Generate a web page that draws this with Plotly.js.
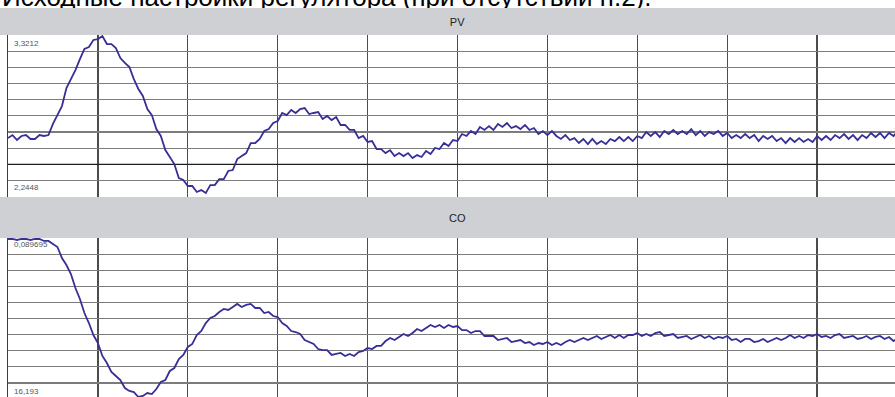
<!DOCTYPE html>
<html>
<head>
<meta charset="utf-8">
<script src="https://cdn.plot.ly/plotly-3.0.1.min.js"></script>
<style>
html,body{margin:0;padding:0;background:#fff;overflow:hidden;}
#chart{width:915px;height:402px;}
</style>
</head>
<body>
<div id="chart"></div>
<script>
// ---- data ----
const TITLE = 'Исходные настройки регулятора (при отсутствии п.2).';
const PANEL_NAMES = ['PV', 'CO'];
const TIME_RANGE = [0, 10];
const SAMPLE_STEP = 0.05;

const PV_MIN = 2.2448, PV_MAX = 3.3212;
const PV_LABELS = ['3,3212', '2,2448'];
const PV_MARK = 2.46008;
const PV = [
 2.635, 2.655, 2.622, 2.649, 2.655, 2.629, 2.629, 2.655, 2.649, 2.655,
 2.729, 2.788, 2.848, 2.968, 3.028, 3.088, 3.161, 3.228, 3.241, 3.288,
 3.294, 3.314, 3.261, 3.261, 3.234, 3.168, 3.135, 3.108, 3.028, 2.962,
 2.915, 2.828, 2.788, 2.695, 2.649, 2.555, 2.509, 2.462, 2.369, 2.356,
 2.316, 2.316, 2.276, 2.289, 2.269, 2.322, 2.322, 2.362, 2.362, 2.416,
 2.422, 2.495, 2.515, 2.535, 2.602, 2.602, 2.629, 2.682, 2.695, 2.735,
 2.749, 2.802, 2.788, 2.822, 2.802, 2.828, 2.835, 2.795, 2.802, 2.808,
 2.762, 2.782, 2.755, 2.775, 2.722, 2.722, 2.689, 2.689, 2.635, 2.649,
 2.609, 2.615, 2.562, 2.562, 2.535, 2.555, 2.515, 2.535, 2.515, 2.535,
 2.502, 2.522, 2.509, 2.549, 2.529, 2.569, 2.562, 2.602, 2.582, 2.622,
 2.615, 2.662, 2.649, 2.682, 2.662, 2.709, 2.689, 2.715, 2.689, 2.729,
 2.709, 2.735, 2.702, 2.715, 2.695, 2.722, 2.689, 2.702, 2.662, 2.682,
 2.655, 2.682, 2.649, 2.629, 2.655, 2.622, 2.635, 2.602, 2.629, 2.595,
 2.629, 2.595, 2.615, 2.595, 2.629, 2.615, 2.642, 2.615, 2.642, 2.615,
 2.649, 2.635, 2.675, 2.649, 2.675, 2.642, 2.682, 2.662, 2.689, 2.662,
 2.682, 2.662, 2.695, 2.655, 2.682, 2.649, 2.675, 2.662, 2.682, 2.649,
 2.669, 2.635, 2.655, 2.635, 2.662, 2.635, 2.655, 2.615, 2.649, 2.629,
 2.649, 2.615, 2.635, 2.602, 2.635, 2.609, 2.635, 2.609, 2.629, 2.609,
 2.649, 2.622, 2.649, 2.622, 2.655, 2.635, 2.662, 2.629, 2.655, 2.622,
 2.655, 2.635, 2.669, 2.642, 2.669, 2.635, 2.669, 2.649, 2.682, 2.649, 2.669
];

const CO_MIN = -16.193, CO_MAX = 0.089695;
const CO_LABELS = ['0,089695', '16,193'];
const CO = [
 -0.01, -0.01, -0.11, -0.01, -0.01, -0.11, -0.01, -0.01, -0.21, -0.21,
 -0.52, -0.82, -1.93, -2.64, -3.55, -4.97, -6.08, -7.50, -8.51, -9.72,
 -10.53, -11.84, -12.55, -13.46, -13.87, -14.27, -15.08, -15.38, -15.49, -15.99,
 -15.89, -15.59, -15.69, -15.18, -14.47, -14.27, -13.36, -13.06, -12.15, -11.74,
 -10.93, -10.63, -9.72, -9.32, -8.51, -8.00, -7.80, -7.39, -7.09, -7.19,
 -6.89, -6.58, -6.89, -6.68, -6.58, -6.99, -6.99, -7.50, -7.39, -7.80,
 -7.90, -8.51, -8.81, -9.32, -9.42, -9.62, -10.23, -10.43, -10.63, -11.14,
 -11.24, -11.24, -11.74, -11.64, -11.54, -11.84, -11.64, -11.84, -11.44, -11.34,
 -11.04, -11.14, -10.83, -10.83, -10.33, -10.02, -10.23, -9.92, -9.62, -9.82,
 -9.52, -9.11, -9.32, -9.01, -8.71, -8.91, -8.71, -9.01, -8.71, -8.91,
 -8.81, -9.22, -9.22, -9.52, -9.32, -9.32, -9.82, -9.82, -9.82, -10.23,
 -10.12, -10.02, -10.43, -10.33, -10.23, -10.53, -10.43, -10.73, -10.53, -10.63,
 -10.43, -10.73, -10.53, -10.73, -10.43, -10.23, -10.43, -10.23, -10.02, -10.23,
 -10.02, -9.82, -10.12, -9.92, -9.72, -10.02, -9.72, -10.02, -9.72, -9.72,
 -9.52, -9.82, -9.62, -9.82, -9.52, -9.42, -9.82, -9.72, -9.62, -10.02,
 -9.92, -9.82, -10.12, -9.92, -9.72, -10.02, -9.82, -10.12, -9.92, -10.02,
 -9.82, -10.23, -10.12, -10.43, -10.12, -10.12, -10.43, -10.33, -10.12, -10.43,
 -10.23, -10.02, -10.23, -10.02, -9.72, -10.02, -9.82, -10.02, -9.72, -9.82,
 -9.62, -9.92, -9.82, -10.02, -9.72, -9.62, -10.02, -9.92, -9.82, -10.12,
 -10.02, -9.82, -10.12, -9.92, -9.82, -10.12, -9.92, -10.33, -10.02, -10.12, -9.92
];

// ---- styling ----
const LINE_COLOR = '#372f96';
const HEADER_BG = '#cfd0d4';
const VGRID = '#4c4c4c';
const HGRID = '#7c7c7c';
const FONT = 'Arial, "Liberation Sans", sans-serif';

function trace(values, xa, ya, name) {
  return {
    type: 'scatter', mode: 'lines', name: name,
    x0: TIME_RANGE[0], dx: SAMPLE_STEP, y: values,
    xaxis: xa, yaxis: ya,
    line: {color: LINE_COLOR, width: 1.8},
    hoverinfo: 'skip', showlegend: false
  };
}

function xAxis(anchor) {
  return {
    domain: [0, 1], range: TIME_RANGE, anchor: anchor,
    tickmode: 'linear', tick0: TIME_RANGE[0], dtick: 1,
    showgrid: true, gridcolor: VGRID, gridwidth: 1.2,
    showline: true, mirror: true, linecolor: '#3c3c3c', linewidth: 1.2,
    showticklabels: false, ticks: '', zeroline: false, fixedrange: true
  };
}
function yAxis(domain, lo, hi, anchor) {
  return {
    domain: domain, range: [lo, hi], anchor: anchor,
    tickmode: 'linear', tick0: lo, dtick: (hi - lo) / 10,
    showgrid: true, gridcolor: HGRID, gridwidth: 1.2,
    showline: true, mirror: true, linecolor: '#3c3c3c', linewidth: 1.2,
    showticklabels: false, ticks: '', zeroline: false, fixedrange: true
  };
}

function label(text, y) {
  return {
    text: text, xref: 'paper', yref: 'paper', x: 0.0045, y: y,
    xanchor: 'left', yanchor: 'middle', showarrow: false,
    font: {family: FONT, size: 8, color: '#555'}
  };
}
function header(text, y, h) {
  return {
    text: text, xref: 'paper', yref: 'paper', x: 0.5, y: y,
    xanchor: 'center', yanchor: 'middle', showarrow: false,
    width: 915, height: h, bgcolor: HEADER_BG, borderpad: 0, borderwidth: 0,
    font: {family: FONT, size: 11, color: '#222'}
  };
}

const layout = {
  width: 915, height: 402,
  margin: {l: 8, r: 8, t: 0, b: 0, pad: 0},
  paper_bgcolor: '#ffffff', plot_bgcolor: '#ffffff',
  showlegend: false,
  xaxis: xAxis('y'),
  yaxis: yAxis([0.5107, 0.91294], PV_MIN, PV_MAX, 'x'),
  xaxis2: xAxis('y2'),
  yaxis2: yAxis([0.00746, 0.40796], CO_MIN, CO_MAX, 'x2'),
  shapes: [{
    type: 'line', xref: 'x', yref: 'y', layer: 'between',
    x0: TIME_RANGE[0], x1: TIME_RANGE[1], y0: PV_MARK, y1: PV_MARK,
    line: {color: '#1e1e1e', width: 1.4}
  }],
  annotations: [
    {
      text: TITLE, xref: 'paper', yref: 'paper', x: -0.0089, y: 0.9664,
      xanchor: 'left', yanchor: 'bottom', showarrow: false,
      font: {family: FONT, size: 26, color: '#000'}
    },
    header(PANEL_NAMES[0], 0.94652, 27),
    header(PANEL_NAMES[1], 0.45896, 41),
    label(PV_LABELS[0], 0.89303),
    label(PV_LABELS[1], 0.53234),
    label(CO_LABELS[0], 0.39303),
    label(CO_LABELS[1], 0.02612)
  ]
};

Plotly.newPlot('chart', [trace(PV, 'x', 'y', 'PV'), trace(CO, 'x2', 'y2', 'CO')], layout,
  {staticPlot: true, displayModeBar: false});
</script>
</body>
</html>
